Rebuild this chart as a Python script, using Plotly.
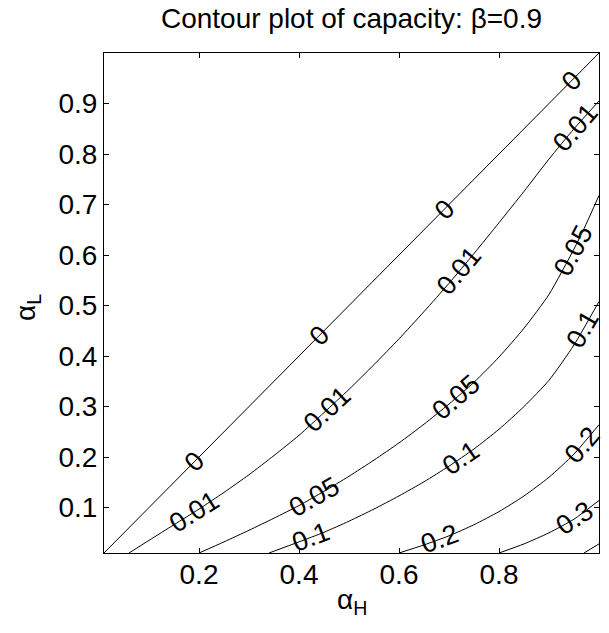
import numpy as np
import plotly.graph_objects as go

# ---- contour lines (alpha_H, alpha_L) ----
c0_x = [0.01, 1.00]
c0_y = [0.01, 1.00]

c001_x = [0.06, 0.10, 0.15, 0.20, 0.25, 0.30, 0.35, 0.40, 0.45, 0.50, 0.55, 0.60,
          0.65, 0.70, 0.75, 0.80, 0.85, 0.90, 0.95, 1.00]
c001_y = [0.010, 0.035, 0.066, 0.097, 0.130, 0.165, 0.203, 0.243, 0.288, 0.334,
          0.383, 0.434, 0.488, 0.544, 0.603, 0.664, 0.726, 0.790, 0.850, 0.905]

c005_x = [0.20, 0.25, 0.30, 0.35, 0.40, 0.45, 0.50, 0.55, 0.60, 0.65, 0.70, 0.75,
          0.80, 0.85, 0.90, 0.95, 0.97, 1.00]
c005_y = [0.010, 0.032, 0.055, 0.079, 0.104, 0.132, 0.162, 0.194, 0.228, 0.265,
          0.305, 0.348, 0.398, 0.455, 0.522, 0.612, 0.652, 0.718]

c01_x = [0.34, 0.40, 0.45, 0.50, 0.55, 0.60, 0.65, 0.70, 0.75, 0.80, 0.85, 0.90,
         0.95, 1.00]
c01_y = [0.010, 0.032, 0.051, 0.073, 0.097, 0.123, 0.151, 0.182, 0.216, 0.255,
         0.300, 0.352, 0.422, 0.508]

c02_x = [0.60, 0.65, 0.70, 0.75, 0.80, 0.85, 0.90, 0.95, 1.00]
c02_y = [0.010, 0.026, 0.044, 0.066, 0.092, 0.123, 0.160, 0.206, 0.264]

c03_x = [0.80, 0.85, 0.90, 0.95, 1.00]
c03_y = [0.010, 0.028, 0.050, 0.077, 0.114]

c04_x = [0.97, 1.00]
c04_y = [0.010, 0.028]

level_names = ["0", "0.01", "0.05", "0.1", "0.2", "0.3", "0.4"]
curves_x = [c0_x, c001_x, c005_x, c01_x, c02_x, c03_x, c04_x]
curves_y = [c0_y, c001_y, c005_y, c01_y, c02_y, c03_y, c04_y]

# alpha_H positions of the inline labels on each level
label_at = {
    "0": [0.19, 0.44, 0.69, 0.945],
    "0.01": [0.19, 0.457, 0.72, 0.952],
    "0.05": [0.43, 0.715, 0.948],
    "0.1": [0.424, 0.724, 0.968],
    "0.2": [0.681, 0.966],
    "0.3": [0.952],
}

x_ticks = [0.2, 0.4, 0.6, 0.8]
y_ticks = [0.1, 0.2, 0.3, 0.4, 0.5, 0.6, 0.7, 0.8, 0.9]
x_range = [0.01, 1.0]
y_range = [0.01, 1.0]

W, H = 609, 633
ML, MR, MT, MB = 104, 10, 53, 80
FONT = "Liberation Sans, Arial, Helvetica, sans-serif"

fig = go.Figure()
for name, xs, ys in zip(level_names, curves_x, curves_y):
    fig.add_trace(go.Scatter(x=xs, y=ys, mode="lines", name=name,
                             line=dict(color="black", width=1, shape="spline", smoothing=0.6),
                             showlegend=False, hoverinfo="skip"))

pw = W - ML - MR
ph = H - MT - MB
sx = pw / (x_range[1] - x_range[0])
sy = ph / (y_range[1] - y_range[0])

for name, xs, ys in zip(level_names, curves_x, curves_y):
    for lx in label_at.get(name, []):
        ly = float(np.interp(lx, xs, ys))
        d = 0.015
        y1 = float(np.interp(lx - d, xs, ys))
        y2 = float(np.interp(lx + d, xs, ys))
        ang = np.degrees(np.arctan2((y2 - y1) * sy, 2 * d * sx))
        fig.add_annotation(x=lx, y=ly, xref="x", yref="y", text=name, showarrow=False,
                           textangle=-ang, font=dict(family=FONT, size=27, color="black"),
                           xanchor="center", yanchor="middle")

fig.add_annotation(x=0.5, y=(553.3 - 602) / ph, xref="paper", yref="paper",
                   text="α<sub>H</sub>", showarrow=False,
                   font=dict(family=FONT, size=28, color="black"),
                   xanchor="center", yanchor="middle")
fig.add_annotation(x=(27 - ML) / pw, y=0.49, xref="paper", yref="paper",
                   text="α<sub>L</sub>", showarrow=False, textangle=-90,
                   font=dict(family=FONT, size=28, color="black"),
                   xanchor="center", yanchor="middle")

axis_common = dict(showline=True, linecolor="black", linewidth=1, mirror="ticks",
                   ticks="inside", ticklen=5, tickcolor="black", tickwidth=1,
                   showgrid=False, zeroline=False,
                   tickfont=dict(family=FONT, size=28, color="black"))
fig.update_xaxes(range=x_range, tickvals=x_ticks, ticktext=[str(v) for v in x_ticks],
                 ticklabelstandoff=-4, **axis_common)
fig.update_yaxes(range=y_range, tickvals=y_ticks, ticktext=[str(v) for v in y_ticks],
                 ticklabelstandoff=0, **axis_common)

fig.update_layout(
    width=W, height=H,
    margin=dict(l=ML, r=MR, t=MT, b=MB),
    paper_bgcolor="white", plot_bgcolor="white",
    title=dict(text="Contour plot of capacity: β=0.9", x=0.5, xref="paper",
               y=1 - 18 / H, yref="container", yanchor="middle", xanchor="center",
               font=dict(family=FONT, size=28, color="black")),
)

fig.write_html("out.html")
